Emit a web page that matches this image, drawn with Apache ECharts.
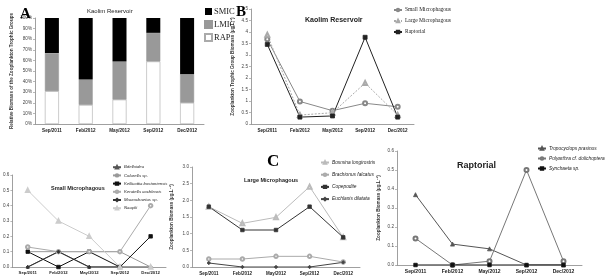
<!DOCTYPE html>
<html>
<head>
<meta charset="utf-8">
<script src="https://cdn.jsdelivr.net/npm/echarts@6/dist/echarts.min.js"></script>
<style>
  html, body { margin: 0; padding: 0; background: #fff; }
  #chart { width: 613px; height: 280px; }
</style>
</head>
<body>
<div id="chart"></div>
<script>
// sampling dates, shared by every panel
const months = ['Sep/2011', 'Feb/2012', 'May/2012', 'Sep/2012', 'Dec/2012'];

// A - relative biomass (%)
const rapShare = [31, 18, 23, 59, 20];
const lmicShare = [36, 24, 36, 27, 27];
const smicShare = [33, 58, 41, 14, 53];

// B - trophic group biomass (ug/L)
const smallMicro = [3.68, 0.98, 0.58, 0.9, 0.75];
const largeMicro = [3.88, 0.39, 0.49, 1.78, 0.39];
const raptorialGroup = [3.46, 0.3, 0.35, 3.77, 0.3];

// C - small microphagous taxa
const bdelloidea = [0, 0.1, 0, 0, 0];
const colurella = [0.1, 0.1, 0.1, 0.1, 0];
const kellicottia = [0.1, 0, 0.1, 0, 0.2];
const keratella = [0.13, 0.1, 0.1, 0.1, 0.4];
const macrochaetus = [0, 0.1, 0, 0, 0];
const nauplii = [0.5, 0.3, 0.2, 0, 0];

// C - large microphagous taxa
const bosmina = [1.81, 1.31, 1.49, 2.41, 0.89];
const brachionus = [0.24, 0.24, 0.32, 0.32, 0.15];
const copepodite = [1.81, 1.11, 1.11, 1.81, 0.89];
const euchlanis = [0.12, 0, 0, 0, 0.14];

// C - raptorial taxa
const tropocyclops = [0.37, 0.11, 0.085, 0, 0];
const polyarthra = [0.14, 0, 0.02, 0.5, 0.02];
const synchaeta = [0, 0, 0, 0, 0];

const sans = 'Liberation Sans';
const serif = 'Liberation Serif';
const axisGray = '#888';

let chartDom = document.getElementById('chart');
let myChart = echarts.init(chartDom);

function catAxis(gridIndex, size) {
  return {
    type: 'category',
    gridIndex: gridIndex,
    data: months,
    axisLine: { lineStyle: { color: axisGray, width: 0.8 } },
    axisTick: { show: false },
    axisLabel: { fontSize: size || 4.6, fontWeight: 'bold', color: '#222', fontFamily: sans, margin: 4, interval: 0 }
  };
}

function valAxis(gridIndex, max, interval, fixed, name, nameGap) {
  return {
    type: 'value',
    gridIndex: gridIndex,
    min: 0,
    max: max,
    interval: interval,
    name: name || '',
    nameLocation: 'middle',
    nameGap: nameGap || 10,
    nameTextStyle: { fontSize: 4.6, fontWeight: 'bold', color: '#333', fontFamily: sans },
    splitLine: { show: false },
    axisLine: { show: true, lineStyle: { color: axisGray, width: 0.8 } },
    axisTick: { show: true, length: 2, lineStyle: { color: axisGray, width: 0.6 } },
    axisLabel: {
      fontSize: 4.6, color: '#444', fontFamily: sans, margin: 3,
      formatter: function (v) {
        if (fixed === '%') return v + '%';
        return fixed ? v.toFixed(fixed) : String(v);
      }
    }
  };
}

function lineSeries(name, data, axisIdx, color, symbol, opts) {
  opts = opts || {};
  return {
    name: name,
    type: 'line',
    xAxisIndex: axisIdx,
    yAxisIndex: axisIdx,
    data: data,
    symbol: symbol,
    symbolSize: opts.size || 4,
    showAllSymbol: true,
    color: color,
    itemStyle: { color: color, borderColor: color, borderWidth: 0.8 },
    lineStyle: { color: color, width: opts.width || 1, type: opts.dash ? [2, 1.5] : 'solid' },
    emphasis: { disabled: true },
    animation: false
  };
}

function legendBox(names, left, top, gap, size, italic) {
  return {
    data: names,
    orient: 'vertical',
    left: left,
    top: top,
    itemGap: gap,
    itemWidth: 8,
    itemHeight: 3,
    padding: 0,
    textStyle: {
      fontSize: size, color: '#222', fontFamily: italic ? sans : serif,
      fontStyle: italic ? 'italic' : 'normal', padding: [0, 0, 0, -2]
    }
  };
}

const option = {
  animation: false,
  title: [
    { text: 'A', left: 15, top: 2, textStyle: { fontSize: 15, fontWeight: 'bold', fontFamily: serif, color: '#000' } },
    { text: 'Kaolim Reservoir', left: 82, top: 3, textStyle: { fontSize: 6, fontWeight: 'normal', fontFamily: sans, color: '#222' } },
    { text: 'B', left: 231, top: 0, textStyle: { fontSize: 15, fontWeight: 'bold', fontFamily: serif, color: '#000' } },
    { text: 'Kaolim Reservoir', left: 300, top: 12, textStyle: { fontSize: 7, fontWeight: 'bold', fontFamily: sans, color: '#222' } },
    { text: 'C', left: 262, top: 148, textStyle: { fontSize: 17, fontWeight: 'bold', fontFamily: serif, color: '#000' } },
    { text: 'Small Microphagous', left: 46, top: 180, textStyle: { fontSize: 5.5, fontWeight: 'bold', fontFamily: sans, color: '#222' } },
    { text: 'Large Microphagous', left: 239, top: 172, textStyle: { fontSize: 5.5, fontWeight: 'bold', fontFamily: sans, color: '#222' } },
    { text: 'Raptorial', left: 452, top: 156, textStyle: { fontSize: 9, fontWeight: 'bold', fontFamily: sans, color: '#222' } }
  ],
  grid: [
    { left: 35, top: 18, width: 169, height: 106 },
    { left: 251, top: 9, width: 163, height: 115 },
    { left: 12, top: 175, width: 154, height: 92 },
    { left: 192, top: 167, width: 168, height: 100 },
    { left: 397, top: 151, width: 185, height: 114 }
  ],
  xAxis: [catAxis(0), catAxis(1), catAxis(2, 4.3), catAxis(3, 4.5), catAxis(4, 5)],
  yAxis: [
    valAxis(0, 100, 10, '%', 'Relative Biomass of the Zooplankton Trophic Groups', 21),
    valAxis(1, 5, 0.5, 0, 'Zooplankton Trophic Group Biomass (µg.L⁻¹)', 16),
    valAxis(2, 0.6, 0.1, 1),
    valAxis(3, 3, 0.5, 1, 'Zooplankton Biomass (µg.L⁻¹)', 18),
    valAxis(4, 0.6, 0.1, 1, 'Zooplankton Biomass (µg.L⁻¹)', 16)
  ],
  legend: [
    {
      data: ['SMIC', 'LMIC', 'RAP'],
      orient: 'vertical', left: 204, top: 7, itemGap: 4, padding: 0,
      icon: 'rect', itemWidth: 7, itemHeight: 7,
      textStyle: { fontSize: 8.5, color: '#222', fontFamily: serif, padding: [0, 0, 0, -3] }
    },
    legendBox(['Small Microphagous', 'Large Microphagous', 'Raptorial'], 393, 7, 5, 5.5, false),
    legendBox(['Bdelloidea', 'Colurella sp.', 'Kellicottia bostoniensis', 'Keratella cochlearis', 'Macrochaetus sp.', 'Nauplii'], 112, 165, 3.8, 4.3, true),
    legendBox(['Bosmina longirostris', 'Brachionus falcatus', 'Copepodite', 'Euchlanis dilatata'], 320, 160, 7.2, 4.8, true),
    legendBox(['Tropocyclops prasinus', 'Polyarthra cf. dolichoptera', 'Synchaeta sp.'], 537, 146, 5, 4.8, true)
  ],
  series: [
    { name: 'RAP', type: 'bar', stack: 'a', xAxisIndex: 0, yAxisIndex: 0, data: rapShare, barWidth: 14,
      itemStyle: { color: '#fff', borderColor: '#aaa', borderWidth: 0.6 } },
    { name: 'LMIC', type: 'bar', stack: 'a', xAxisIndex: 0, yAxisIndex: 0, data: lmicShare, barWidth: 14,
      itemStyle: { color: '#999', borderColor: '#999', borderWidth: 0.5 } },
    { name: 'SMIC', type: 'bar', stack: 'a', xAxisIndex: 0, yAxisIndex: 0, data: smicShare, barWidth: 14,
      itemStyle: { color: '#000' } },

    lineSeries('Small Microphagous', smallMicro, 1, '#888', 'emptyCircle'),
    lineSeries('Large Microphagous', largeMicro, 1, '#aaa', 'emptyTriangle', { dash: true }),
    lineSeries('Raptorial', raptorialGroup, 1, '#222', 'rect'),

    lineSeries('Bdelloidea', bdelloidea, 2, '#555', 'triangle', { size: 3 }),
    lineSeries('Colurella sp.', colurella, 2, '#999', 'none'),
    lineSeries('Kellicottia bostoniensis', kellicottia, 2, '#111', 'rect', { size: 3.5 }),
    lineSeries('Keratella cochlearis', keratella, 2, '#aaa', 'emptyCircle', { size: 3.5 }),
    lineSeries('Macrochaetus sp.', macrochaetus, 2, '#333', 'diamond', { size: 3.5 }),
    lineSeries('Nauplii', nauplii, 2, '#ccc', 'emptyTriangle', { size: 3.5 }),

    lineSeries('Bosmina longirostris', bosmina, 3, '#bbb', 'emptyTriangle', { size: 4 }),
    lineSeries('Brachionus falcatus', brachionus, 3, '#aaa', 'emptyCircle', { size: 3.5 }),
    lineSeries('Copepodite', copepodite, 3, '#333', 'rect', { size: 3.5 }),
    lineSeries('Euchlanis dilatata', euchlanis, 3, '#444', 'diamond', { size: 3.5 }),

    lineSeries('Tropocyclops prasinus', tropocyclops, 4, '#555', 'triangle', { size: 4 }),
    lineSeries('Polyarthra cf. dolichoptera', polyarthra, 4, '#777', 'emptyCircle', { size: 4 }),
    lineSeries('Synchaeta sp.', synchaeta, 4, '#111', 'rect', { size: 3.5 })
  ]
};

myChart.setOption(option);

window.addEventListener('resize', function () {
  myChart.resize();
});
</script>
</body>
</html>
